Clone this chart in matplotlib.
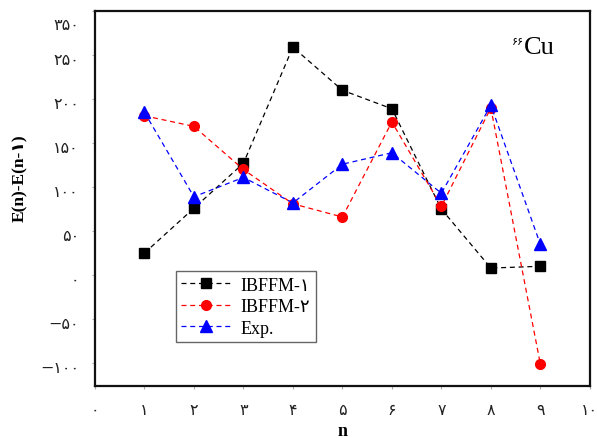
import matplotlib
matplotlib.use("Agg")
import matplotlib.pyplot as plt
import matplotlib.transforms as mtransforms

SERIF = ["Liberation Serif", "DejaVu Sans"]
FA = str.maketrans("0123456789", "۰۱۲۳۴۵۶۷۸۹")

n_values = [1, 2, 3, 4, 5, 6, 7, 8, 9]
ibffm1   = [25, 76, 127, 259, 210, 189, 75, 8, 10]
ibffm2   = [181, 169, 120, 81, 66, 174, 78, 190, -101]
exp_vals = [185, 89, 111, 82, 126, 139, 93, 193, 35]

x_ticks = list(range(0, 11))
y_ticks = [-100, -50, 0, 50, 100, 150, 200, 250, 300]
y_tick_labels = ["−۱۰۰", "−۵۰", "۰", "۵۰", "۱۰۰", "۱۵۰", "۲۰۰", "۲۵۰", "۳۵۰"]

fig = plt.figure(figsize=(5.97, 4.39), dpi=100)
ax = fig.add_axes([0.159, 0.1185, 0.829, 0.854])

dash = (0, (4, 3))
ax.plot(n_values, ibffm1, color="black", ls=dash, lw=0.9, marker="s", ms=6.5,
        label="IBFFM-۱")
ax.plot(n_values, ibffm2, color="red", ls=dash, lw=0.9, marker="o", ms=7,
        label="IBFFM-۲")
ax.plot(n_values, exp_vals, color="blue", ls=dash, lw=0.9, marker="^", ms=8.5,
        label="Exp.")

ax.set_xlim(0, 10)
ax.set_ylim(-126, 300)
ax.set_xticks(x_ticks)
ax.set_xticklabels([str(v).translate(FA) for v in x_ticks])
ax.set_yticks(y_ticks)
ax.set_yticklabels(y_tick_labels)
ax.tick_params(axis="both", direction="out", length=2.5, width=0.8,
               color="#aaaaaa", labelsize=11.5, labelcolor="#222222")
ax.tick_params(axis="x", pad=9)
ax.tick_params(axis="y", pad=9)
for lab in ax.get_xticklabels() + ax.get_yticklabels():
    lab.set_fontfamily(["DejaVu Sans"])

# labels sit a bit below their ticks in the original
for i, lab in enumerate(ax.get_yticklabels()):
    dy = -12 if i == len(y_ticks) - 1 else -3
    lab.set_transform(lab.get_transform() +
                      mtransforms.ScaledTranslation(0, dy / 100, fig.dpi_scale_trans))

for side in ["left", "right", "top", "bottom"]:
    ax.spines[side].set_linewidth(1.6)
    ax.spines[side].set_color("#111111")

leg = ax.legend(loc="upper left", bbox_to_anchor=(0.145, 0.33), frameon=True,
                fancybox=False, edgecolor="#666666", framealpha=1,
                prop={"family": SERIF, "size": 13}, handlelength=2.8,
                borderpad=0.3, labelspacing=0.25, handletextpad=0.5)
leg.get_frame().set_linewidth(1.0)

fig.text(20 / 597, 1 - 178 / 439, "E(n)-E(n-۱)", rotation=90, ha="center",
         va="center", family=SERIF, weight="bold", fontsize=12.5)
fig.text(343 / 597, 1 - 432 / 439, "n", ha="center", va="center",
         family=SERIF, weight="bold", fontsize=13)

ax.text(0.866, 0.906, "۶۶", transform=ax.transAxes, ha="right", va="bottom",
        family=["DejaVu Sans"], fontsize=8)
ax.text(0.866, 0.875, "Cu", transform=ax.transAxes, ha="left", va="bottom",
        family=SERIF, fontsize=19)

fig.savefig("out.png", dpi=100)
